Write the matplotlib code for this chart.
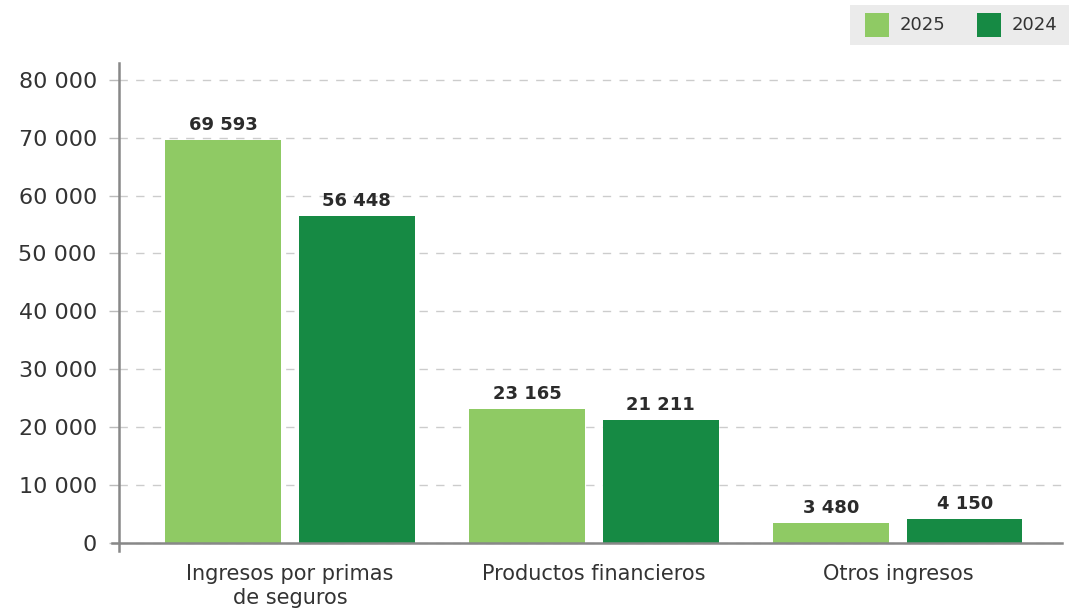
import matplotlib
matplotlib.use("Agg")
import matplotlib.pyplot as plt
import numpy as np
from matplotlib.patches import Rectangle

categories = ["Ingresos por primas\nde seguros", "Productos financieros", "Otros ingresos"]
series_names = ["2025", "2024"]
values_2025 = [69593, 23165, 3480]
values_2024 = [56448, 21211, 4150]
yticks = [0, 10000, 20000, 30000, 40000, 50000, 60000, 70000, 80000]

c25 = "#8fca64"
c24 = "#168a44"
txt = "#2b2b2b"
plt.rcParams['font.family'] = ["DejaVu Sans"]

def fmt(v):
    return f"{v:,}".replace(",", " ")

fig = plt.figure(figsize=(10.69, 6.11), dpi=100)
ax = fig.add_axes([119/1069, 1-551/611, (1062-119)/1069, (551-63)/611])

x = np.arange(len(categories))
w = 0.38
off = 0.22
b1 = ax.bar(x - off, values_2025, w, color=c25, zorder=3)
b2 = ax.bar(x + off, values_2024, w, color=c24, zorder=3)
for bars, vals in ((b1, values_2025), (b2, values_2024)):
    for r, v in zip(bars, vals):
        ax.text(r.get_x() + r.get_width()/2, v + 1000, fmt(v), ha="center", va="bottom",
                fontsize=13, fontweight="bold", color=txt, zorder=4)

ax.set_xlim(-0.5625, 2.54)
ax.set_ylim(-1400, 82900)
ax.set_yticks(yticks)
ax.set_yticklabels([fmt(v) for v in yticks], fontsize=16, color="#333333")
ax.set_xticks(x)
labels = ax.set_xticklabels(categories, fontsize=15, color="#333333", linespacing=1.25)
for t in labels:
    t.set_multialignment("center")
ax.tick_params(axis="x", length=0, pad=9)
ax.tick_params(axis="y", length=7, color="#bbbbbb", width=1, pad=9)
for s in ["top", "right", "bottom"]:
    ax.spines[s].set_visible(False)
ax.spines["left"].set_color("#888888")
ax.spines["left"].set_linewidth(1.8)
ax.axhline(0, color="#888888", lw=1.8, zorder=5, xmin=-0.007, clip_on=False)
ax.yaxis.grid(True, linestyle=(0, (6, 6)), color="#cccccc", lw=1, zorder=0)
ax.set_axisbelow(True)

# legend box
fig.patches.append(Rectangle((850/1069, 1-45/611), (1069-850)/1069, 40/611,
                             transform=fig.transFigure, facecolor="#ebebeb", edgecolor="none"))
for xp, name, col in ((865, "2025", c25), (977, "2024", c24)):
    fig.patches.append(Rectangle((xp/1069, 1-37/611), 24/1069, 24/611,
                                 transform=fig.transFigure, facecolor=col, edgecolor="none"))
    fig.text((xp+35)/1069, 1-25/611, name, fontsize=13, color="#333333", va="center", ha="left")

fig.savefig("out.png", dpi=100)
